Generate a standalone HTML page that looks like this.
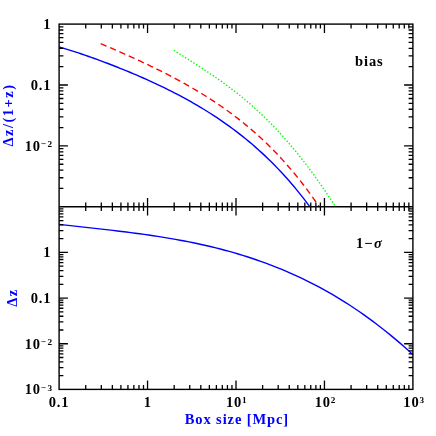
<!DOCTYPE html>
<html><head><meta charset="utf-8"><title>plot</title>
<style>
html,body{margin:0;padding:0;background:#fff;}
svg{display:block;will-change:transform;}
text{font-family:"Liberation Serif",serif;font-weight:bold;font-size:14.5px;}
</style></head>
<body>
<svg width="436" height="436" viewBox="0 0 436 436">
<rect width="436" height="436" fill="#fff"/>
<g fill="none" stroke-linejoin="round">
<path d="M59.10,46.85 L62.31,47.82 L65.53,48.80 L68.74,49.81 L71.96,50.84 L75.17,51.88 L78.38,52.94 L81.60,54.02 L84.81,55.12 L88.03,56.23 L91.24,57.37 L94.45,58.51 L97.67,59.68 L100.88,60.86 L104.09,62.05 L107.31,63.27 L110.52,64.50 L113.74,65.74 L116.95,67.00 L120.16,68.28 L123.38,69.58 L126.59,70.90 L129.81,72.23 L133.02,73.58 L136.23,74.95 L139.45,76.34 L142.66,77.75 L145.88,79.17 L149.09,80.62 L152.30,82.09 L155.52,83.59 L158.73,85.10 L161.95,86.64 L165.16,88.21 L168.37,89.80 L171.59,91.42 L174.80,93.06 L178.02,94.73 L181.23,96.43 L184.44,98.17 L187.66,99.93 L190.87,101.73 L194.08,103.56 L197.30,105.43 L200.51,107.33 L203.73,109.27 L206.94,111.25 L210.15,113.28 L213.37,115.34 L216.58,117.45 L219.80,119.61 L223.01,121.81 L226.22,124.07 L229.44,126.37 L232.65,128.73 L235.87,131.14 L239.08,133.61 L242.29,136.13 L245.51,138.72 L248.72,141.37 L251.94,144.08 L255.15,146.86 L258.36,149.71 L261.58,152.63 L264.79,155.63 L268.01,158.69 L271.22,161.84 L274.43,165.07 L277.65,168.38 L280.86,171.77 L284.07,175.26 L287.29,178.83 L290.50,182.50 L293.72,186.26 L296.93,190.12 L300.14,194.08 L303.36,198.15 L306.57,202.32 L309.79,206.60 L309.93,206.80" stroke="#0000ff" stroke-width="1.4"/>
<path d="M100.70,43.69 L103.50,44.86 L106.30,46.05 L109.10,47.24 L111.91,48.44 L114.71,49.65 L117.51,50.87 L120.31,52.09 L123.11,53.33 L125.91,54.58 L128.71,55.83 L131.51,57.10 L134.32,58.37 L137.12,59.66 L139.92,60.96 L142.72,62.27 L145.52,63.59 L148.32,64.92 L151.12,66.27 L153.92,67.63 L156.73,69.01 L159.53,70.40 L162.33,71.80 L165.13,73.22 L167.93,74.66 L170.73,76.12 L173.53,77.59 L176.33,79.09 L179.14,80.60 L181.94,82.13 L184.74,83.69 L187.54,85.27 L190.34,86.87 L193.14,88.49 L195.94,90.14 L198.74,91.82 L201.55,93.52 L204.35,95.25 L207.15,97.01 L209.95,98.80 L212.75,100.62 L215.55,102.48 L218.35,104.36 L221.15,106.29 L223.96,108.24 L226.76,110.24 L229.56,112.27 L232.36,114.35 L235.16,116.46 L237.96,118.62 L240.76,120.82 L243.56,123.07 L246.37,125.36 L249.17,127.70 L251.97,130.10 L254.77,132.54 L257.57,135.03 L260.37,137.58 L263.17,140.19 L265.97,142.85 L268.78,145.57 L271.58,148.35 L274.38,151.20 L277.18,154.11 L279.98,157.08 L282.78,160.13 L285.58,163.24 L288.38,166.42 L291.19,169.68 L293.99,173.01 L296.79,176.42 L299.59,179.91 L302.39,183.48 L305.19,187.13 L307.99,190.87 L310.79,194.69 L313.60,198.60 L316.40,202.61 L319.20,206.71 L319.26,206.80" stroke="#ff0000" stroke-width="1.4" stroke-dasharray="6.3 3.9"/>
<path d="M173.90,50.26 L175.98,51.59 L178.05,52.92 L180.13,54.24 L182.21,55.57 L184.29,56.89 L186.36,58.21 L188.44,59.53 L190.52,60.85 L192.59,62.17 L194.67,63.50 L196.75,64.84 L198.83,66.18 L200.90,67.53 L202.98,68.88 L205.06,70.25 L207.14,71.63 L209.21,73.01 L211.29,74.42 L213.37,75.83 L215.44,77.26 L217.52,78.70 L219.60,80.16 L221.68,81.64 L223.75,83.14 L225.83,84.65 L227.91,86.19 L229.98,87.74 L232.06,89.32 L234.14,90.92 L236.22,92.54 L238.29,94.18 L240.37,95.85 L242.45,97.55 L244.53,99.27 L246.60,101.01 L248.68,102.79 L250.76,104.59 L252.83,106.42 L254.91,108.28 L256.99,110.16 L259.07,112.08 L261.14,114.03 L263.22,116.01 L265.30,118.02 L267.37,120.07 L269.45,122.14 L271.53,124.25 L273.61,126.39 L275.68,128.57 L277.76,130.78 L279.84,133.02 L281.92,135.30 L283.99,137.61 L286.07,139.96 L288.15,142.35 L290.22,144.77 L292.30,147.23 L294.38,149.72 L296.46,152.25 L298.53,154.82 L300.61,157.42 L302.69,160.07 L304.76,162.74 L306.84,165.46 L308.92,168.21 L311.00,171.01 L313.07,173.83 L315.15,176.70 L317.23,179.61 L319.31,182.55 L321.38,185.53 L323.46,188.55 L325.54,191.60 L327.61,194.69 L329.69,197.82 L331.77,200.99 L333.85,204.20 L335.51,206.80" stroke="#00ff00" stroke-width="1.4" stroke-dasharray="1.4 1.9"/>
<path d="M59.10,224.41 L63.58,224.91 L68.06,225.41 L72.54,225.91 L77.01,226.40 L81.49,226.89 L85.97,227.39 L90.45,227.88 L94.93,228.37 L99.41,228.87 L103.88,229.38 L108.36,229.89 L112.84,230.41 L117.32,230.95 L121.80,231.49 L126.28,232.04 L130.76,232.61 L135.23,233.20 L139.71,233.80 L144.19,234.42 L148.67,235.05 L153.15,235.71 L157.63,236.40 L162.11,237.10 L166.58,237.83 L171.06,238.59 L175.54,239.37 L180.02,240.19 L184.50,241.03 L188.98,241.90 L193.45,242.81 L197.93,243.75 L202.41,244.73 L206.89,245.75 L211.37,246.80 L215.85,247.89 L220.33,249.03 L224.80,250.20 L229.28,251.42 L233.76,252.69 L238.24,254.00 L242.72,255.36 L247.20,256.76 L251.67,258.22 L256.15,259.73 L260.63,261.29 L265.11,262.91 L269.59,264.58 L274.07,266.30 L278.55,268.09 L283.02,269.93 L287.50,271.83 L291.98,273.80 L296.46,275.83 L300.94,277.92 L305.42,280.08 L309.89,282.30 L314.37,284.59 L318.85,286.95 L323.33,289.38 L327.81,291.89 L332.29,294.46 L336.77,297.11 L341.24,299.84 L345.72,302.64 L350.20,305.52 L354.68,308.47 L359.16,311.51 L363.64,314.63 L368.12,317.83 L372.59,321.12 L377.07,324.49 L381.55,327.94 L386.03,331.49 L390.51,335.12 L394.99,338.84 L399.46,342.65 L403.94,346.56 L408.42,350.55 L412.90,354.65" stroke="#0000ff" stroke-width="1.4"/>
</g>
<g fill="none" stroke="#000" stroke-width="1.4">
<rect x="59.1" y="24.1" width="353.80" height="365.30"/>
<path d="M59.1,206.8H412.9"/>
<path d="M85.73,24.10V28.40M85.73,202.50V211.10M85.73,385.10V389.40M101.30,24.10V28.40M101.30,202.50V211.10M101.30,385.10V389.40M112.35,24.10V28.40M112.35,202.50V211.10M112.35,385.10V389.40M120.92,24.10V28.40M120.92,202.50V211.10M120.92,385.10V389.40M127.93,24.10V28.40M127.93,202.50V211.10M127.93,385.10V389.40M133.85,24.10V28.40M133.85,202.50V211.10M133.85,385.10V389.40M138.98,24.10V28.40M138.98,202.50V211.10M138.98,385.10V389.40M143.50,24.10V28.40M143.50,202.50V211.10M143.50,385.10V389.40M147.55,24.10V32.90M147.55,198.00V215.60M147.55,380.60V389.40M174.18,24.10V28.40M174.18,202.50V211.10M174.18,385.10V389.40M189.75,24.10V28.40M189.75,202.50V211.10M189.75,385.10V389.40M200.80,24.10V28.40M200.80,202.50V211.10M200.80,385.10V389.40M209.37,24.10V28.40M209.37,202.50V211.10M209.37,385.10V389.40M216.38,24.10V28.40M216.38,202.50V211.10M216.38,385.10V389.40M222.30,24.10V28.40M222.30,202.50V211.10M222.30,385.10V389.40M227.43,24.10V28.40M227.43,202.50V211.10M227.43,385.10V389.40M231.95,24.10V28.40M231.95,202.50V211.10M231.95,385.10V389.40M236.00,24.10V32.90M236.00,198.00V215.60M236.00,380.60V389.40M262.63,24.10V28.40M262.63,202.50V211.10M262.63,385.10V389.40M278.20,24.10V28.40M278.20,202.50V211.10M278.20,385.10V389.40M289.25,24.10V28.40M289.25,202.50V211.10M289.25,385.10V389.40M297.82,24.10V28.40M297.82,202.50V211.10M297.82,385.10V389.40M304.83,24.10V28.40M304.83,202.50V211.10M304.83,385.10V389.40M310.75,24.10V28.40M310.75,202.50V211.10M310.75,385.10V389.40M315.88,24.10V28.40M315.88,202.50V211.10M315.88,385.10V389.40M320.40,24.10V28.40M320.40,202.50V211.10M320.40,385.10V389.40M324.45,24.10V32.90M324.45,198.00V215.60M324.45,380.60V389.40M351.08,24.10V28.40M351.08,202.50V211.10M351.08,385.10V389.40M366.65,24.10V28.40M366.65,202.50V211.10M366.65,385.10V389.40M377.70,24.10V28.40M377.70,202.50V211.10M377.70,385.10V389.40M386.27,24.10V28.40M386.27,202.50V211.10M386.27,385.10V389.40M393.28,24.10V28.40M393.28,202.50V211.10M393.28,385.10V389.40M399.20,24.10V28.40M399.20,202.50V211.10M399.20,385.10V389.40M404.33,24.10V28.40M404.33,202.50V211.10M404.33,385.10V389.40M408.85,24.10V28.40M408.85,202.50V211.10M408.85,385.10V389.40M59.10,188.47H63.40M408.60,188.47H412.90M59.10,177.74H63.40M408.60,177.74H412.90M59.10,170.13H63.40M408.60,170.13H412.90M59.10,164.23H63.40M408.60,164.23H412.90M59.10,159.41H63.40M408.60,159.41H412.90M59.10,155.33H63.40M408.60,155.33H412.90M59.10,151.80H63.40M408.60,151.80H412.90M59.10,148.69H63.40M408.60,148.69H412.90M59.10,145.90H67.90M404.10,145.90H412.90M59.10,127.57H63.40M408.60,127.57H412.90M59.10,116.84H63.40M408.60,116.84H412.90M59.10,109.23H63.40M408.60,109.23H412.90M59.10,103.33H63.40M408.60,103.33H412.90M59.10,98.51H63.40M408.60,98.51H412.90M59.10,94.43H63.40M408.60,94.43H412.90M59.10,90.90H63.40M408.60,90.90H412.90M59.10,87.79H63.40M408.60,87.79H412.90M59.10,85.00H67.90M404.10,85.00H412.90M59.10,66.67H63.40M408.60,66.67H412.90M59.10,55.94H63.40M408.60,55.94H412.90M59.10,48.33H63.40M408.60,48.33H412.90M59.10,42.43H63.40M408.60,42.43H412.90M59.10,37.61H63.40M408.60,37.61H412.90M59.10,33.53H63.40M408.60,33.53H412.90M59.10,30.00H63.40M408.60,30.00H412.90M59.10,26.89H63.40M408.60,26.89H412.90M59.10,375.66H63.40M408.60,375.66H412.90M59.10,367.62H63.40M408.60,367.62H412.90M59.10,361.92H63.40M408.60,361.92H412.90M59.10,357.49H63.40M408.60,357.49H412.90M59.10,353.88H63.40M408.60,353.88H412.90M59.10,350.82H63.40M408.60,350.82H412.90M59.10,348.17H63.40M408.60,348.17H412.90M59.10,345.84H63.40M408.60,345.84H412.90M59.10,343.75H67.90M404.10,343.75H412.90M59.10,330.01H63.40M408.60,330.01H412.90M59.10,321.97H63.40M408.60,321.97H412.90M59.10,316.27H63.40M408.60,316.27H412.90M59.10,311.84H63.40M408.60,311.84H412.90M59.10,308.23H63.40M408.60,308.23H412.90M59.10,305.17H63.40M408.60,305.17H412.90M59.10,302.52H63.40M408.60,302.52H412.90M59.10,300.19H63.40M408.60,300.19H412.90M59.10,298.10H67.90M404.10,298.10H412.90M59.10,284.36H63.40M408.60,284.36H412.90M59.10,276.32H63.40M408.60,276.32H412.90M59.10,270.62H63.40M408.60,270.62H412.90M59.10,266.19H63.40M408.60,266.19H412.90M59.10,262.58H63.40M408.60,262.58H412.90M59.10,259.52H63.40M408.60,259.52H412.90M59.10,256.87H63.40M408.60,256.87H412.90M59.10,254.54H63.40M408.60,254.54H412.90M59.10,252.45H67.90M404.10,252.45H412.90M59.10,238.71H63.40M408.60,238.71H412.90M59.10,230.67H63.40M408.60,230.67H412.90M59.10,224.97H63.40M408.60,224.97H412.90M59.10,220.54H63.40M408.60,220.54H412.90M59.10,216.93H63.40M408.60,216.93H412.90M59.10,213.87H63.40M408.60,213.87H412.90M59.10,211.22H63.40M408.60,211.22H412.90M59.10,208.89H63.40M408.60,208.89H412.90" stroke-width="1.3"/>
</g>
<g fill="#000">
<text x="51.3" y="28.9" text-anchor="end" letter-spacing="0.8">1</text>
<text x="51.3" y="89.8" text-anchor="end" letter-spacing="0.8">0.1</text>
<text x="53.4" y="150.7" text-anchor="end" letter-spacing="0.8">10<tspan dy="-3.7" font-size="9.2" letter-spacing="1.4">−2</tspan></text>
<text x="51.3" y="257.2" text-anchor="end" letter-spacing="0.8">1</text>
<text x="51.3" y="302.9" text-anchor="end" letter-spacing="0.8">0.1</text>
<text x="53.4" y="348.6" text-anchor="end" letter-spacing="0.8">10<tspan dy="-3.7" font-size="9.2" letter-spacing="1.4">−2</tspan></text>
<text x="53.4" y="394.2" text-anchor="end" letter-spacing="0.8">10<tspan dy="-3.7" font-size="9.2" letter-spacing="1.4">−3</tspan></text>
<text x="59.0" y="406.6" text-anchor="middle" letter-spacing="0.8">0.1</text>
<text x="147.9" y="406.6" text-anchor="middle" letter-spacing="0.8">1</text>
<text x="237.0" y="406.6" text-anchor="middle" letter-spacing="0.8">10<tspan dy="-3.7" font-size="9.2" letter-spacing="1.4">1</tspan></text>
<text x="325.7" y="406.6" text-anchor="middle" letter-spacing="0.8">10<tspan dy="-3.7" font-size="9.2" letter-spacing="1.4">2</tspan></text>
<text x="414.4" y="406.6" text-anchor="middle" letter-spacing="0.8">10<tspan dy="-3.7" font-size="9.2" letter-spacing="1.4">3</tspan></text>
<text x="355" y="65.9" letter-spacing="0.9">bias</text>
<text x="356" y="248.1">1<tspan dx="0.9">−</tspan><tspan dx="1.7" font-style="italic">σ</tspan></text>
<text x="236.9" y="424.3" text-anchor="middle" fill="#0000ff" letter-spacing="0.9">Box size [Mpc]</text>
<text transform="translate(13.2,115.0) rotate(-90)" text-anchor="middle" fill="#0000ff" letter-spacing="1.5">Δz/(1+z)</text>
<text transform="translate(17.0,297.6) rotate(-90)" text-anchor="middle" fill="#0000ff" letter-spacing="1.5">Δz</text>
</g>
</svg>
</body></html>
